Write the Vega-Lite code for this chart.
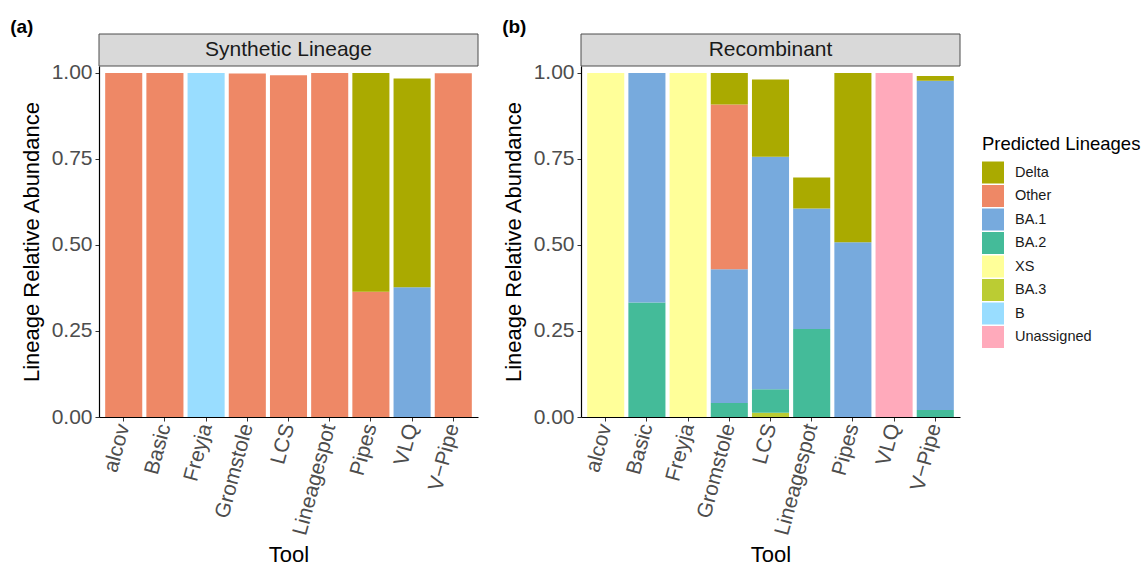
{
  "$schema": "https://vega.github.io/schema/vega-lite/v6.json",
  "background": "white",
  "padding": {"left": 10, "top": 17, "right": 5, "bottom": 5},
  "config": {
    "font": "Liberation Sans",
    "view": {"stroke": null},
    "axis": {
      "domainColor": "#000000",
      "domainWidth": 1.2,
      "tickColor": "#333333",
      "tickSize": 4,
      "labelColor": "#4D4D4D",
      "labelFontSize": 21,
      "labelPadding": 3,
      "titleFontSize": 22,
      "titleFontWeight": "normal",
      "titleColor": "#000000",
      "grid": false
    },
    "legend": {
      "titleFontSize": 18.5,
      "titleFontWeight": "normal",
      "titleColor": "#000000",
      "labelFontSize": 14.5,
      "labelColor": "#1A1A1A",
      "symbolType": "square",
      "symbolSize": 484,
      "symbolStrokeWidth": 0,
      "symbolOpacity": 1,
      "rowPadding": 1.5,
      "labelOffset": 11,
      "titlePadding": 8
    },
    "title": {"fontSize": 19, "fontWeight": "bold", "color": "#000000"}
  },
  "datasets": {
    "bars": [
      {"panel": "Synthetic Lineage", "tool": "alcov", "lineage": "Other", "value": 1.0},
      {"panel": "Synthetic Lineage", "tool": "Basic", "lineage": "Other", "value": 1.0},
      {"panel": "Synthetic Lineage", "tool": "Freyja", "lineage": "B", "value": 1.0},
      {"panel": "Synthetic Lineage", "tool": "Gromstole", "lineage": "Other", "value": 0.998},
      {"panel": "Synthetic Lineage", "tool": "LCS", "lineage": "Other", "value": 0.993},
      {"panel": "Synthetic Lineage", "tool": "Lineagespot", "lineage": "Other", "value": 1.0},
      {"panel": "Synthetic Lineage", "tool": "Pipes", "lineage": "Other", "value": 0.364},
      {"panel": "Synthetic Lineage", "tool": "Pipes", "lineage": "Delta", "value": 0.636},
      {"panel": "Synthetic Lineage", "tool": "VLQ", "lineage": "BA.1", "value": 0.377},
      {"panel": "Synthetic Lineage", "tool": "VLQ", "lineage": "Delta", "value": 0.607},
      {"panel": "Synthetic Lineage", "tool": "V−Pipe", "lineage": "Other", "value": 0.999},
      {"panel": "Recombinant", "tool": "alcov", "lineage": "XS", "value": 1.0},
      {"panel": "Recombinant", "tool": "Basic", "lineage": "BA.2", "value": 0.333},
      {"panel": "Recombinant", "tool": "Basic", "lineage": "BA.1", "value": 0.667},
      {"panel": "Recombinant", "tool": "Freyja", "lineage": "XS", "value": 1.0},
      {"panel": "Recombinant", "tool": "Gromstole", "lineage": "BA.2", "value": 0.041},
      {"panel": "Recombinant", "tool": "Gromstole", "lineage": "BA.1", "value": 0.388},
      {"panel": "Recombinant", "tool": "Gromstole", "lineage": "Other", "value": 0.479},
      {"panel": "Recombinant", "tool": "Gromstole", "lineage": "Delta", "value": 0.092},
      {"panel": "Recombinant", "tool": "LCS", "lineage": "BA.3", "value": 0.012},
      {"panel": "Recombinant", "tool": "LCS", "lineage": "BA.2", "value": 0.069},
      {"panel": "Recombinant", "tool": "LCS", "lineage": "BA.1", "value": 0.675},
      {"panel": "Recombinant", "tool": "LCS", "lineage": "Delta", "value": 0.225},
      {"panel": "Recombinant", "tool": "Lineagespot", "lineage": "BA.2", "value": 0.256},
      {"panel": "Recombinant", "tool": "Lineagespot", "lineage": "BA.1", "value": 0.350},
      {"panel": "Recombinant", "tool": "Lineagespot", "lineage": "Delta", "value": 0.090},
      {"panel": "Recombinant", "tool": "Pipes", "lineage": "BA.1", "value": 0.508},
      {"panel": "Recombinant", "tool": "Pipes", "lineage": "Delta", "value": 0.492},
      {"panel": "Recombinant", "tool": "VLQ", "lineage": "Unassigned", "value": 1.0},
      {"panel": "Recombinant", "tool": "V−Pipe", "lineage": "BA.2", "value": 0.020},
      {"panel": "Recombinant", "tool": "V−Pipe", "lineage": "BA.1", "value": 0.957},
      {"panel": "Recombinant", "tool": "V−Pipe", "lineage": "Delta", "value": 0.014}
    ]
  },
  "hconcat": [
    {
      "title": {"text": "(a)", "anchor": "start", "dx": -10, "offset": -3},
      "spacing": 0,
      "bounds": "flush",
      "vconcat": [
        {
          "width": 379,
          "height": 32,
          "data": {"values": [{"label": "Synthetic Lineage"}]},
          "layer": [
            {"mark": {"type": "rect", "fill": "#D9D9D9", "stroke": "#4D4D4D", "strokeWidth": 1}, "encoding": {}},
            {"mark": {"type": "text", "fontSize": 21, "color": "#1A1A1A"}, "encoding": {"text": {"field": "label"}}}
          ]
        },
        {
          "width": 379,
          "height": 351,
          "data": {"name": "bars"},
          "transform": [
            {"filter": "datum.panel === 'Synthetic Lineage'"},
            {"calculate": "indexof(['Delta','Other','BA.1','BA.2','XS','BA.3','B','Unassigned'], datum.lineage)", "as": "rank"}
          ],
          "mark": {"type": "bar"},
          "encoding": {
            "x": {"field": "tool", "type": "nominal", "sort": ["alcov", "Basic", "Freyja", "Gromstole", "LCS", "Lineagespot", "Pipes", "VLQ", "V−Pipe"], "scale": {"paddingInner": 0.1, "paddingOuter": 0.15}, "axis": {"title": "Tool", "labelAngle": -75, "titlePadding": 7}},
            "y": {"field": "value", "type": "quantitative", "stack": "zero", "scale": {"domain": [0, 1.02], "nice": false}, "axis": {"title": "Lineage Relative Abundance", "values": [0, 0.25, 0.5, 0.75, 1], "format": ".2f", "titlePadding": 8}},
            "color": {"field": "lineage", "type": "nominal", "scale": {"domain": ["Delta", "Other", "BA.1", "BA.2", "XS", "BA.3", "B", "Unassigned"], "range": ["#AAAA00", "#EE8866", "#77AADD", "#44BB99", "#FFFF99", "#BBCC33", "#99DDFF", "#FFAABB"]}, "legend": {"title": "Predicted Lineages", "orient": "none", "legendX": 883, "legendY": 101}},
            "order": {"field": "rank", "type": "quantitative", "sort": "descending"}
          }
        }
      ]
    },
    {
      "title": {"text": "(b)", "anchor": "start", "dx": 0, "offset": -3},
      "spacing": 0,
      "bounds": "flush",
      "vconcat": [
        {
          "width": 379,
          "height": 32,
          "data": {"values": [{"label": "Recombinant"}]},
          "layer": [
            {"mark": {"type": "rect", "fill": "#D9D9D9", "stroke": "#4D4D4D", "strokeWidth": 1}, "encoding": {}},
            {"mark": {"type": "text", "fontSize": 21, "color": "#1A1A1A"}, "encoding": {"text": {"field": "label"}}}
          ]
        },
        {
          "width": 379,
          "height": 351,
          "data": {"name": "bars"},
          "transform": [
            {"filter": "datum.panel === 'Recombinant'"},
            {"calculate": "indexof(['Delta','Other','BA.1','BA.2','XS','BA.3','B','Unassigned'], datum.lineage)", "as": "rank"}
          ],
          "mark": {"type": "bar"},
          "encoding": {
            "x": {"field": "tool", "type": "nominal", "sort": ["alcov", "Basic", "Freyja", "Gromstole", "LCS", "Lineagespot", "Pipes", "VLQ", "V−Pipe"], "scale": {"paddingInner": 0.1, "paddingOuter": 0.15}, "axis": {"title": "Tool", "labelAngle": -75, "titlePadding": 7}},
            "y": {"field": "value", "type": "quantitative", "stack": "zero", "scale": {"domain": [0, 1.02], "nice": false}, "axis": {"title": "Lineage Relative Abundance", "values": [0, 0.25, 0.5, 0.75, 1], "format": ".2f", "titlePadding": 8}},
            "color": {"field": "lineage", "type": "nominal", "scale": {"domain": ["Delta", "Other", "BA.1", "BA.2", "XS", "BA.3", "B", "Unassigned"], "range": ["#AAAA00", "#EE8866", "#77AADD", "#44BB99", "#FFFF99", "#BBCC33", "#99DDFF", "#FFAABB"]}, "legend": {"title": "Predicted Lineages", "orient": "none", "legendX": 883, "legendY": 101}},
            "order": {"field": "rank", "type": "quantitative", "sort": "descending"}
          }
        }
      ]
    }
  ],
  "spacing": 23,
  "resolve": {"scale": {"color": "shared"}}
}
